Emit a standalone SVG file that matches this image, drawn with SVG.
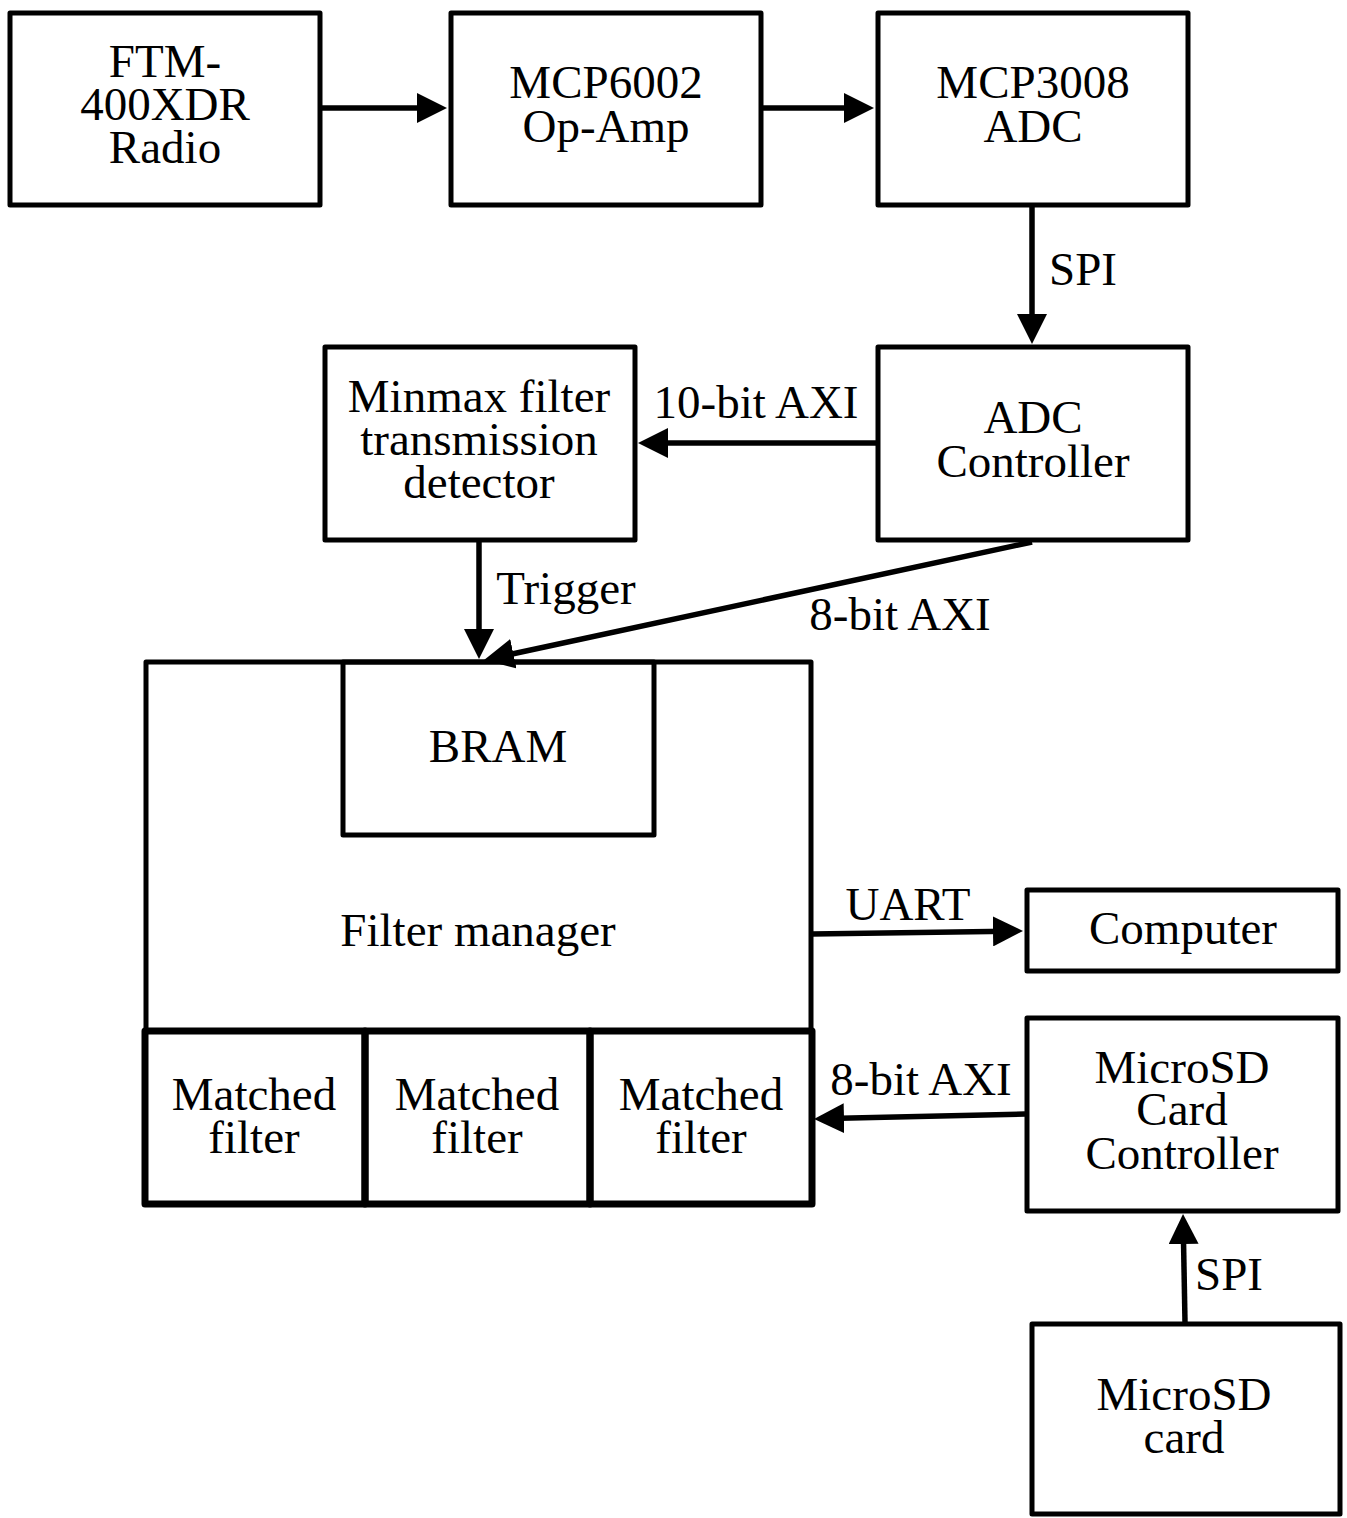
<svg xmlns="http://www.w3.org/2000/svg" width="1347" height="1518" viewBox="0 0 1347 1518">
<style>
.box{fill:none;stroke:#000;stroke-width:5;stroke-linejoin:round}
.thick{fill:none;stroke:#000;stroke-width:7;stroke-linejoin:round}
.conn{fill:none;stroke:#000;stroke-width:5.5}
text{font-family:"Liberation Serif","Times New Roman",serif;font-size:47px;fill:#000;text-anchor:middle}
</style>
<defs>
<marker id="ah" viewBox="0 0 30 30" refX="15" refY="15" markerWidth="30" markerHeight="30" markerUnits="userSpaceOnUse" orient="auto">
<path d="M0,0 L30,15 L0,30 Z" fill="#000"/>
</marker>
</defs>
<rect width="1347" height="1518" fill="#fff"/>

<g id="ftm">
<rect class="box" x="10" y="13" width="310" height="192"/>
<text x="165" y="77">FTM-</text>
<text x="165" y="120">400XDR</text>
<text x="165" y="163">Radio</text>
</g>
<g id="mcp6002">
<rect class="box" x="451" y="13" width="310" height="192"/>
<text x="606" y="98">MCP6002</text>
<text x="606" y="142">Op-Amp</text>
</g>
<g id="mcp3008">
<rect class="box" x="878" y="13" width="310" height="192"/>
<text x="1033" y="98">MCP3008</text>
<text x="1033" y="142">ADC</text>
</g>
<g id="minmax">
<rect class="box" x="325" y="347" width="310" height="193"/>
<text x="479" y="412">Minmax filter</text>
<text x="479" y="455">transmission</text>
<text x="479" y="498">detector</text>
</g>
<g id="adcctrl">
<rect class="box" x="878" y="347" width="310" height="193"/>
<text x="1033" y="433">ADC</text>
<text x="1033" y="477">Controller</text>
</g>
<g id="filtermanager">
<path class="box" d="M146,1030 L146,662 L811,662 L811,1030"/>
<text x="478" y="946">Filter manager</text>
</g>
<g id="bram">
<rect class="box" x="343" y="662" width="311" height="173"/>
<text x="498" y="762">BRAM</text>
</g>
<g id="matched1">
<rect class="thick" x="145" y="1031" width="220" height="173"/>
<text x="254" y="1110">Matched</text>
<text x="254" y="1153">filter</text>
</g>
<g id="matched2">
<rect class="thick" x="365" y="1031" width="225" height="173"/>
<text x="477" y="1110">Matched</text>
<text x="477" y="1153">filter</text>
</g>
<g id="matched3">
<rect class="thick" x="590" y="1031" width="222" height="173"/>
<text x="701" y="1110">Matched</text>
<text x="701" y="1153">filter</text>
</g>
<g id="computer">
<rect class="box" x="1027" y="890" width="311" height="81"/>
<text x="1183" y="944">Computer</text>
</g>
<g id="microsdctrl">
<rect class="box" x="1027" y="1018" width="311" height="193"/>
<text x="1182" y="1083">MicroSD</text>
<text x="1182" y="1125">Card</text>
<text x="1182" y="1169">Controller</text>
</g>
<g id="microsdcard">
<rect class="box" x="1032" y="1324" width="308" height="190"/>
<text x="1184" y="1410">MicroSD</text>
<text x="1184" y="1453">card</text>
</g>

<g id="connectors">
<line class="conn" x1="322" y1="108" x2="432" y2="108" marker-end="url(#ah)"/>
<line class="conn" x1="762" y1="108" x2="859" y2="108" marker-end="url(#ah)"/>
<line class="conn" x1="1032" y1="207" x2="1032" y2="329" marker-end="url(#ah)"/>
<line class="conn" x1="876" y1="443" x2="653" y2="443" marker-end="url(#ah)"/>
<line class="conn" x1="479" y1="541" x2="479" y2="644" marker-end="url(#ah)"/>
<line class="conn" x1="1032" y1="542" x2="498.7" y2="656.9" marker-end="url(#ah)"/>
<line class="conn" x1="812" y1="934" x2="1008" y2="931.2" marker-end="url(#ah)"/>
<line class="conn" x1="1025" y1="1114" x2="829" y2="1118.6" marker-end="url(#ah)"/>
<line class="conn" x1="1185" y1="1322" x2="1183.3" y2="1229" marker-end="url(#ah)"/>
<text x="1083" y="285">SPI</text>
<text x="756" y="418">10-bit AXI</text>
<text x="566" y="604">Trigger</text>
<text x="900" y="630">8-bit AXI</text>
<text x="908" y="920">UART</text>
<text x="921" y="1095">8-bit AXI</text>
<text x="1229" y="1290">SPI</text>
</g>
</svg>
